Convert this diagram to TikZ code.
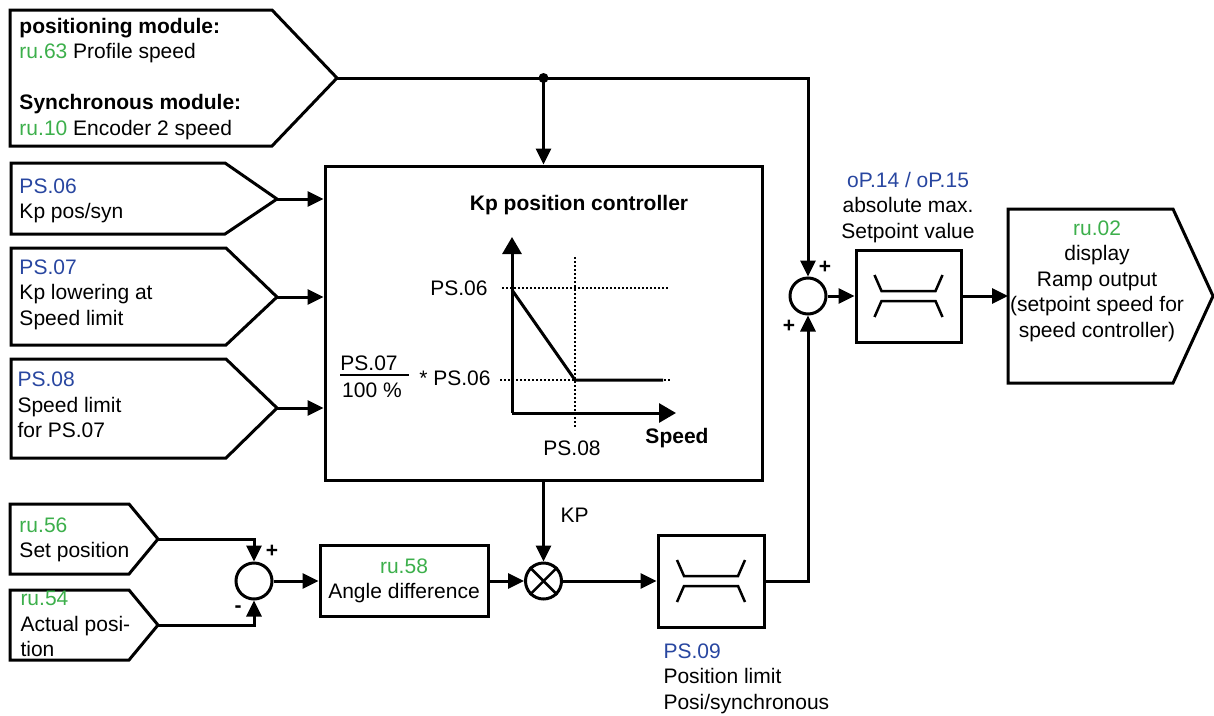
\documentclass[tikz,border=0pt]{standalone}
\usepackage{fontspec}
\setmainfont{Liberation Sans}
\usetikzlibrary{arrows.meta}
\definecolor{parblue}{RGB}{40,70,160}
\definecolor{rugreen}{RGB}{60,175,75}

\begin{document}
\begin{tikzpicture}[x=1pt, y=-1pt, line width=3pt,
        every node/.style={font=\fontsize{21}{25.5}\selectfont, inner sep=0pt},
        arr/.style={-{Triangle[length=16pt,width=15pt]}},
        axarr/.style={-{Triangle[length=17pt,width=19pt]}},
        blk/.style={draw, rectangle},
        sumpt/.style={draw, circle, minimum size=36pt},
        gridln/.style={line width=1.5pt, dash pattern=on 1.5pt off 2.5pt},
        txt/.style={anchor=base west, align=left}]
        \useasboundingbox (0,0) rectangle (1214,715);

        % inputs (left), text nodes sit on the baseline of their last line
        \coordinate (posmodtip) at (337,78);
        \draw (10,10) -- (272,10) -- (posmodtip) -- (272,146) -- (10,146) -- cycle;
            \node[txt] (posmod) at (18,135) {\textbf{positioning module:}\\\textcolor{rugreen}{ru.63} Profile speed\\[25.5pt]\textbf{Synchronous module:}\\\textcolor{rugreen}{ru.10} Encoder 2 speed};
        \coordinate (kpostip) at (277,199);
        \draw (11,163) -- (225,163) -- (kpostip) -- (225,234) -- (11,234) -- cycle;
            \node[txt] (kpos) at (18,218.5) {\textcolor{parblue}{PS.06}\\Kp pos/syn};
        \coordinate (kplowtip) at (277,297);
        \draw (11,248) -- (226,248) -- (kplowtip) -- (226,345) -- (11,345) -- cycle;
            \node[txt] (kplow) at (18,325) {\textcolor{parblue}{PS.07}\\Kp lowering at\\Speed limit};
        \coordinate (spdlimtip) at (277,408);
        \draw (11,359) -- (226,359) -- (spdlimtip) -- (226,458) -- (11,458) -- cycle;
            \node[txt] (spdlim) at (16,437.5) {\textcolor{parblue}{PS.08}\\Speed limit\\for PS.07};
        \coordinate (setpostip) at (158,539);
        \draw (10,504) -- (129,504) -- (setpostip) -- (129,574) -- (10,574) -- cycle;
            \node[txt] (setpos) at (18,557.5) {\textcolor{rugreen}{ru.56}\\Set position};
        \coordinate (actpostip) at (158,625);
        \draw (10,590) -- (129,590) -- (actpostip) -- (129,660) -- (10,660) -- cycle;
            \node[txt] (actpos) at (19,656.5) {\textcolor{rugreen}{ru.54}\\Actual posi-\\tion};

        % Kp controller block
        \node[blk, minimum width=437pt, minimum height=314pt] (kpctrl) at (543.5,323) {};
            \node[anchor=base] (kptitle) at (579,210) {\textbf{Kp position controller}};
        \coordinate (gorig) at (512,413);
        \draw[gridln] (502,288) -- (670,288);
        \draw[gridln] (500,380) -- (670,380);
        \draw[gridln] (575,257) -- (575,427);
        \draw[axarr] (gorig) -- (512,237);
        \draw[axarr] (gorig) -- (676,413);
        \draw (512,290) -- (575,380) -- (663,380);
            \node[anchor=base east] (kpmax) at (489,295.5) {PS.06};
            \node[anchor=base east] (kpmin) at (492,385.5) {* PS.06};
            \node[anchor=base] (fracnum) at (369,370) {PS.07};
            \node[anchor=base] (fracden) at (372,397) {100 \%};
        \draw[line width=2pt] (340,375) -- (409,375);
            \node[anchor=base] (ps08lbl) at (572,455) {PS.08};
            \node[anchor=base] (speedlbl) at (677,443) {\textbf{Speed}};

        % position path
        \node[sumpt] (possum) at (254,581) {};
            \node (possumplus) at (272,551) {\textbf{+}};
            \node (possumminus) at (238,609) {\textbf{-}};
        \node[blk, minimum width=168pt, minimum height=71pt, align=center] (angdiff) at (404,581) {\textcolor{rugreen}{ru.58}\\Angle difference};
        \node[sumpt] (mult) at (543.5,581) {};
        \draw[line width=2.5pt] (mult.north east) -- (mult.south west) (mult.north west) -- (mult.south east);
            \node[anchor=base west] (kplbl) at (559,522) {KP};
        \node[blk, minimum width=106pt, minimum height=92pt] (poslim) at (711,581) {};
            \node[txt] (poslimtxt) at (662,709) {\textcolor{parblue}{PS.09}\\Position limit\\Posi/synchronous};

        % speed setpoint
        \node[sumpt] (spdsum) at (808,296) {};
            \node (spdsumtop) at (825,267) {\textbf{+}};
            \node (spdsumbot) at (789,326) {\textbf{+}};
        \node[blk, minimum width=105pt, minimum height=92pt] (maxlim) at (908.5,296) {};
            \node[anchor=base, align=center] (maxlimtxt) at (908,238) {\textcolor{parblue}{oP.14 / oP.15}\\absolute max.\\Setpoint value};
        \foreach \lim in {poslim,maxlim} {
            \draw[line width=2.5pt, shift={(\lim.center)}] (-34,-21) -- (-27,-5) -- (27,-5) -- (34,-21);
            \draw[line width=2.5pt, shift={(\lim.center)}] (-34,21) -- (-27,5) -- (27,5) -- (34,21);
        }
        \coordinate (rampin) at (1008,296);
        \draw (rampin) -- (1008,209) -- (1173,209) -- (1213,296) -- (1173,383) -- (1008,383) -- cycle;
            \node[anchor=base, align=center] (rampout) at (1097,337) {\textcolor{rugreen}{ru.02}\\display\\Ramp output\\(setpoint speed for\\speed controller)};

        % connections
        \coordinate (topdot) at (kpctrl.north |- posmodtip);
        \draw[arr] (posmodtip) -| (spdsum.north);
        \fill (topdot) circle (5);
        \draw[arr] (topdot) -- (kpctrl.north);
        \draw[arr] (kpostip) -- (kpostip -| kpctrl.west);
        \draw[arr] (kplowtip) -- (kplowtip -| kpctrl.west);
        \draw[arr] (spdlimtip) -- (spdlimtip -| kpctrl.west);
        \draw[arr] (setpostip) -| (possum.north);
        \draw[arr] (actpostip) -| (possum.south);
        \draw[arr] (possum.east) -- (angdiff.west);
        \draw[arr] (angdiff.east) -- (mult.west);
        \draw[arr] (kpctrl.south) -- (mult.north);
        \draw[arr] (mult.east) -- (poslim.west);
        \draw[arr] (poslim.east) -| (spdsum.south);
        \draw[arr] (spdsum.east) -- (maxlim.west);
        \draw[arr] (maxlim.east) -- (rampin);
\end{tikzpicture}
\end{document}
